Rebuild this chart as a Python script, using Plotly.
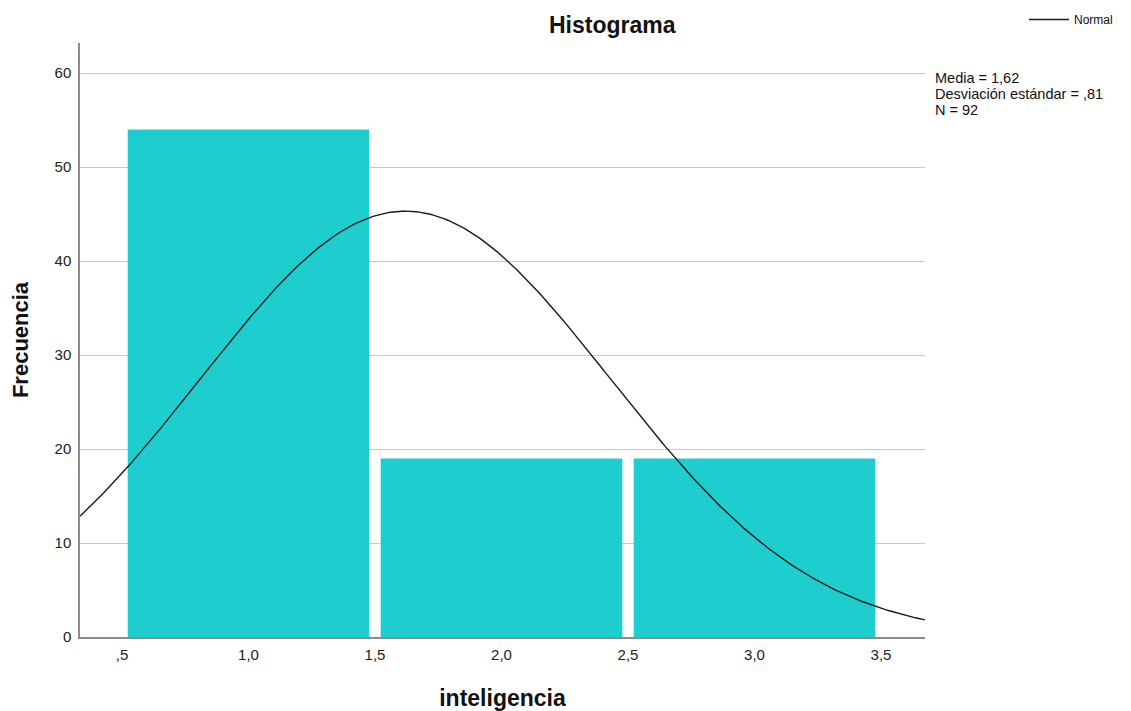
import numpy as np
import plotly.graph_objects as go

# Data
bin_centers = [1.0, 2.0, 3.0]
frequencies = [54, 19, 19]
tick_vals = [0.5, 1.0, 1.5, 2.0, 2.5, 3.0, 3.5]
tick_text = [",5", "1,0", "1,5", "2,0", "2,5", "3,0", "3,5"]
y_ticks = [0, 10, 20, 30, 40, 50, 60]
stats_lines = ["Media = 1,62", "Desviación estándar = ,81", "N = 92"]

# Stats shown in the chart (normal curve parameters)
MEAN = 1.62
SD = 0.81
N = 92
BIN_WIDTH = 1.0

X_RANGE = [0.334, 3.674]
Y_RANGE = [0, 63.2]

xs = np.linspace(X_RANGE[0], X_RANGE[1], 300)
ys = N * BIN_WIDTH / (SD * np.sqrt(2 * np.pi)) * np.exp(-0.5 * ((xs - MEAN) / SD) ** 2)

FONT = "Liberation Sans, Arial, sans-serif"

# page layout (page has ~8px body offset)
OFF = 8
PL, PR, PT, PB = 80, 925, 43, 637  # desired plot-area box in page pixels
PW, PH = PR - PL, PB - PT


def px_x(p):
    return (p - PL) / PW


def px_y(p):
    return (PB - p) / PH


fig = go.Figure()
fig.add_trace(go.Bar(
    x=bin_centers, y=frequencies, width=0.955,
    marker=dict(color="#1ECECE", line=dict(width=0)),
    showlegend=False, hoverinfo="x+y",
))
fig.add_trace(go.Scatter(
    x=xs, y=ys, mode="lines", name="Normal",
    line=dict(color="#1a1a1a", width=1.4),
))

annotations = [
    dict(text="<b>Histograma</b>", xref="paper", yref="paper",
         x=px_x(612), y=px_y(25), xanchor="center", yanchor="middle",
         showarrow=False, font=dict(size=23, family=FONT, color="#111111")),
]
for i, line in enumerate(stats_lines):
    annotations.append(dict(
        text=line, xref="paper", yref="paper", x=px_x(933), y=px_y(78 + 16 * i),
        xanchor="left", yanchor="middle", align="left", showarrow=False,
        font=dict(size=14.5, family=FONT, color="#111111")))

fig.update_layout(
    width=1131, height=711,
    margin=dict(l=PL - OFF, r=1131 - (PR - OFF), t=PT - OFF, b=711 - (PB - OFF), autoexpand=False),
    paper_bgcolor="white", plot_bgcolor="white",
    font=dict(family=FONT, color="#222222", size=15),
    showlegend=True,
    legend=dict(
        x=px_x(1024), y=px_y(5), xanchor="left", yanchor="top",
        bgcolor="rgba(0,0,0,0)", font=dict(size=12, family=FONT, color="#111111"),
        itemwidth=40, tracegroupgap=0,
    ),
    annotations=annotations,
)

fig.update_xaxes(
    range=X_RANGE, tickvals=tick_vals, ticktext=tick_text,
    showgrid=False, zeroline=False, showline=True, linecolor="#8c8c8c", linewidth=1.5,
    ticks="outside", ticklen=3, tickcolor="rgba(0,0,0,0)", tickfont=dict(size=15, color="#222222"),
    title=dict(text="<b>inteligencia</b>", font=dict(size=23, family=FONT, color="#111111"), standoff=28),
)
fig.update_yaxes(
    range=Y_RANGE, tickvals=y_ticks,
    showgrid=True, gridcolor="#c8c8c8", gridwidth=1.2, zeroline=False,
    showline=True, linecolor="#8c8c8c", linewidth=1.5,
    ticks="outside", ticklen=4, tickcolor="rgba(0,0,0,0)", tickfont=dict(size=15, color="#222222"),
    title=dict(text="<b>Frecuencia</b>", font=dict(size=22, family=FONT, color="#111111"), standoff=24),
)

fig.write_html("out.html")
